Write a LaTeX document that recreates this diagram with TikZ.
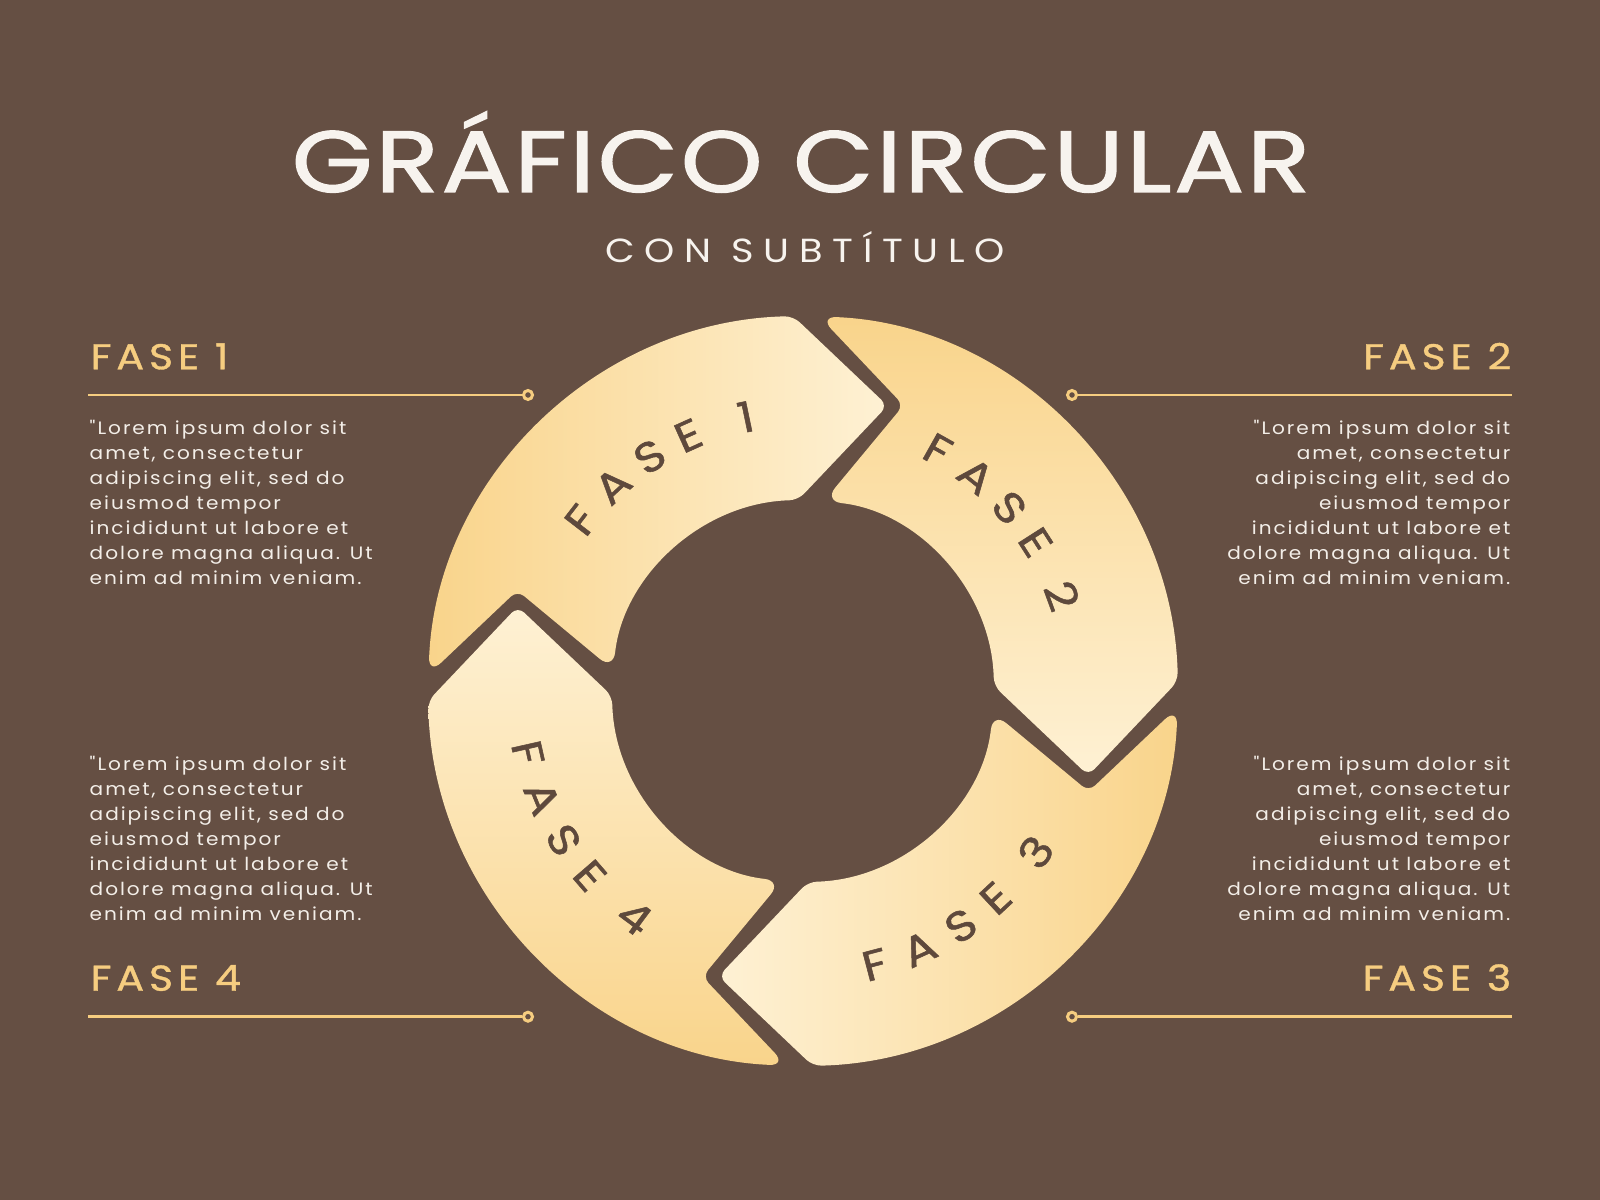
\documentclass[tikz,border=0pt]{standalone}
\usepackage{fontspec}
\setmainfont{Poppins}
\newfontfamily\titlef{Poppins}[FakeStretch=1.2, FakeBold=1.5, LetterSpace=3]
\newfontfamily\subf{Poppins}[FakeStretch=1.15, LetterSpace=29]
\newfontfamily\headf{Poppins}[FakeStretch=1.15, FakeBold=1, LetterSpace=13.5]
\newfontfamily\bodyf{Poppins}[FakeStretch=1.12, LetterSpace=11]
\newfontfamily\ringf{Poppins}[FakeStretch=1.15, FakeBold=1.2]
\definecolor{bg}{HTML}{654F43}
\definecolor{titlec}{HTML}{F7F3EE}
\definecolor{goldc}{HTML}{F6CD80}
\definecolor{bodyc}{HTML}{F3EEE8}
\definecolor{darkg}{HTML}{F9D48B}
\definecolor{paleg}{HTML}{FEF1D4}
\definecolor{ringtxt}{HTML}{5E493C}
\tikzset{
  arrowpath/.style={insert path={
    ({#1-18}:297.6) -- ({#1}:191)
    [rounded corners=5pt] arc[start angle={#1}, end angle={#1+82.18}, radius=191]
    [rounded corners=2.5pt] -- ({#1+69.11}:302.9)
    [rounded corners=5pt] -- ({#1+86.02}:375)
    [rounded corners=2.5pt] arc[start angle={#1+86.02}, end angle={#1}, radius=375]
    -- cycle}},
  arrowshape/.style={rounded corners=2.5pt},
  goldline/.style={draw=goldc, line width=0.75pt},
  dotnode/.style={circle, draw=goldc, fill=bg, line width=0.85pt, inner sep=0pt, minimum size=0.09cm},
  headtxt/.style={inner sep=0pt, text=goldc, font=\headf\fontsize{10.2pt}{12pt}\selectfont},
  bodytxt/.style={inner sep=0pt, text=bodyc, font=\bodyf\fontsize{5.1pt}{7pt}\selectfont},
  ringtxtst/.style={inner sep=0pt, text=ringtxt, font=\ringf\fontsize{12pt}{14pt}\selectfont}
}
\begin{document}
\begin{tikzpicture}[x=0.01cm,y=0.01cm]
\useasboundingbox (0,0) rectangle (1600,1200);
\fill[bg] (0,0) rectangle (1600,1200);
% title
\node[inner sep=0pt, anchor=base, text=titlec, font=\titlef\fontsize{24.7pt}{30pt}\selectfont] (title) at (801,1008) {GRÁFICO CIRCULAR};
\node[inner sep=0pt, anchor=base, text=titlec, font=\subf\fontsize{9.5pt}{12pt}\selectfont] (subtitle) at (805,937) {CON SUBTÍTULO};
% arrows
\begin{scope}[shift={(803,509)}]
\shade[arrowshape, arrowpath=91.5, left color=darkg, right color=paleg];
\shade[arrowshape, arrowpath=1.5, top color=darkg, bottom color=paleg];
\shade[arrowshape, arrowpath=271.5, left color=paleg, right color=darkg];
\shade[arrowshape, arrowpath=181.5, top color=paleg, bottom color=darkg];
% ring labels
\foreach \ch/\off [count=\i] in {F/0, A/9.6, S/19.2, E/28.2, 1/40.6}
  \node[ringtxtst, rotate={142.4-\off-90}] (ra\i) at ({142.4-\off}:280) {\ch};
\foreach \ch/\off [count=\i] in {F/0, A/9.6, S/19.2, E/28.2, 2/40.6}
  \node[ringtxtst, rotate={60.8-\off-90}] (rb\i) at ({60.8-\off}:276) {\ch};
\foreach \ch/\off [count=\i] in {F/0, A/9.6, S/19.2, E/28.2, 3/40.6}
  \node[ringtxtst, rotate={284.7+\off+90}] (rc\i) at ({284.7+\off}:283) {\ch};
\foreach \ch/\off [count=\i] in {F/0, A/9.6, S/19.2, E/28.2, 4/40.6}
  \node[ringtxtst, rotate={192.7+\off+90}] (rd\i) at ({192.7+\off}:282) {\ch};
\end{scope}
% headings
\node[headtxt, anchor=base west] (h1) at (90,830.7) {FASE 1};
\node[headtxt, anchor=base east] (h2) at (1512,830.7) {FASE 2};
\node[headtxt, anchor=base east] (h3) at (1512,209.3) {FASE 3};
\node[headtxt, anchor=base west] (h4) at (90,209.3) {FASE 4};
% lines with dots
\coordinate (l1) at (88,805);
\node[dotnode] (d1) at (528,805) {};
\draw[goldline] (l1) -- (d1);
\coordinate (l2) at (1512,805);
\node[dotnode] (d2) at (1072,805) {};
\draw[goldline] (l2) -- (d2);
\coordinate (l3) at (1512,183.3);
\node[dotnode] (d3) at (1072,183.3) {};
\draw[goldline] (l3) -- (d3);
\coordinate (l4) at (88,183.3);
\node[dotnode] (d4) at (528,183.3) {};
\draw[goldline] (l4) -- (d4);
% body texts
\foreach \t [count=\i] in {{"Lorem ipsum dolor sit},{amet, consectetur},{adipiscing elit, sed do},{eiusmod tempor},{incididunt ut labore et},{dolore magna aliqua. Ut},{enim ad minim veniam.}}{
  \node[bodytxt, anchor=base west] (ta\i) at (89,{765-25*(\i-1)}) {\t};
  \node[bodytxt, anchor=base east] (tb\i) at (1511,{765-25*(\i-1)}) {\t};
  \node[bodytxt, anchor=base west] (tc\i) at (89,{429.3-24.9*(\i-1)}) {\t};
  \node[bodytxt, anchor=base east] (td\i) at (1511,{429.3-24.9*(\i-1)}) {\t};
}
\end{tikzpicture}
\end{document}
